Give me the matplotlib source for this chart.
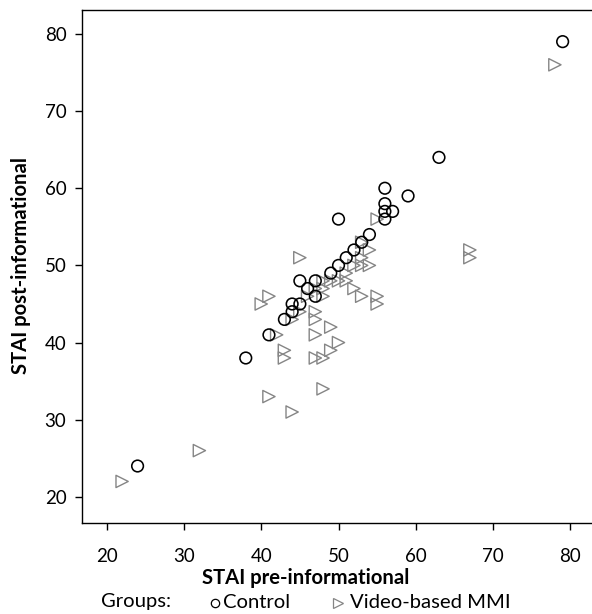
import matplotlib
matplotlib.use("Agg")
import matplotlib.pyplot as plt
from matplotlib.lines import Line2D

plt.rcParams['font.family'] = ['Lato', 'DejaVu Sans']

# Control group: (pre, post)
control_pre = [24, 38, 41, 43, 44, 44, 45, 45, 46, 47, 47, 49, 50, 50, 51,
               52, 53, 54, 56, 56, 56, 56, 57, 59, 63, 79]
control_post = [24, 38, 41, 43, 44, 45, 45, 48, 47, 46, 48, 49, 50, 56, 51,
                52, 53, 54, 56, 57, 58, 60, 57, 59, 64, 79]

# Video-based MMI group
video_pre = [22, 32, 41, 44, 48, 43, 43, 47, 48, 49, 50, 42, 47, 49, 47, 47,
             44, 45, 40, 41, 45, 46, 48, 47, 48, 48, 49, 50, 51, 51, 52, 53,
             53, 54, 54, 53, 52, 53, 55, 55, 55, 67, 67, 78]
video_post = [22, 26, 33, 31, 34, 38, 39, 38, 38, 39, 40, 41, 41, 42, 43, 44,
              43, 44, 45, 46, 51, 46, 46, 47, 47, 48, 48, 48, 48, 49, 50, 50,
              51, 50, 52, 53, 47, 46, 45, 46, 56, 51, 52, 76]

ticks = [20, 30, 40, 50, 60, 70, 80]

fig = plt.figure(figsize=(5.92, 6.14), dpi=100)
ax = fig.add_axes([0.138, 0.1474, 0.862, 0.8363])

ax.scatter(video_pre, video_post, marker='>', s=78, facecolors='none',
           edgecolors='#858585', linewidths=1.0, zorder=3)
ax.scatter(control_pre, control_post, marker='o', s=70, facecolors='none',
           edgecolors='black', linewidths=1.15, zorder=4)

ax.set_xlim(16.77, 82.8)
ax.set_ylim(16.55, 83.1)
ax.set_xticks(ticks)
ax.set_yticks(ticks)
ax.tick_params(axis='both', direction='out', length=5, width=1, labelsize=13.5,
               color='black')
ax.tick_params(axis='x', pad=13)
ax.tick_params(axis='y', pad=6)
for side in ['left', 'bottom', 'top']:
    ax.spines[side].set_linewidth(1.0)
ax.spines['right'].set_visible(False)

fig.text(202 / 592, 1 - 584 / 614, 'STAI pre-informational', fontsize=14.6,
         fontweight='bold', ha='left', va='baseline')
fig.text(21.5 / 592, 1 - 266 / 614, 'STAI post-informational', fontsize=14.6,
         fontweight='bold', ha='center', va='center', rotation=90)

# legend row
ly = 1 - 607.5 / 614
lm = 1 - 602.5 / 614
fig.text(101 / 592, ly, 'Groups:', fontsize=14.6, va='baseline')
fig.add_artist(Line2D([215 / 592], [lm], marker='o', markersize=6,
                      markerfacecolor='none', markeredgecolor='black',
                      markeredgewidth=0.9, linestyle='none',
                      transform=fig.transFigure))
fig.text(223 / 592, ly, 'Control', fontsize=14.6, va='baseline')
fig.add_artist(Line2D([338 / 592], [lm], marker='>', markersize=7,
                      markerfacecolor='none', markeredgecolor='#858585',
                      markeredgewidth=0.9, linestyle='none',
                      transform=fig.transFigure))
fig.text(350 / 592, ly, 'Video-based MMI', fontsize=14.6, va='baseline')

fig.savefig('out.png', dpi=100)
